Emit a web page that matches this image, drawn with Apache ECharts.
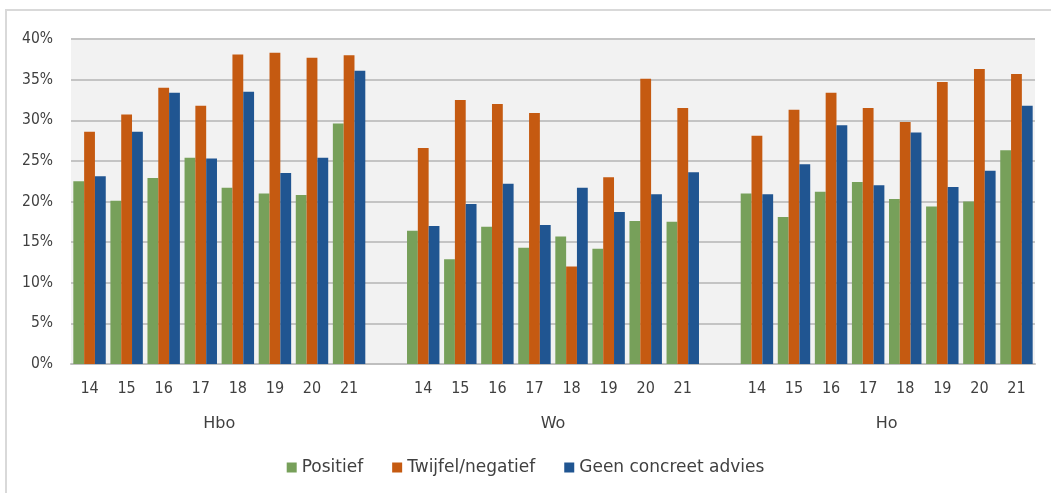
<!DOCTYPE html>
<html>
<head>
<meta charset="utf-8">
<script src="https://cdn.jsdelivr.net/npm/echarts@6/dist/echarts.min.js"></script>
<style>
html,body{margin:0;padding:0;background:#fff;overflow:hidden;}
#frame{position:absolute;left:5px;top:9px;width:1200px;height:700px;border:2px solid #D9D9D9;box-sizing:border-box;}
#chart{position:absolute;left:0;top:0;width:1051px;height:493px;}
</style>
</head>
<body>
<div id="frame"></div>
<div id="chart"></div>
<script>
// Data
const years = ['14','15','16','17','18','19','20','21'];
const groups = ['Hbo','Wo','Ho'];
const seriesNames = ['Positief','Twijfel/negatief','Geen concreet advies'];

const positiefHbo = [22.5, 20.1, 22.9, 25.4, 21.7, 21.0, 20.8, 29.6];
const positiefWo  = [16.4, 12.9, 16.9, 14.3, 15.7, 14.2, 17.6, 17.5];
const positiefHo  = [21.0, 18.1, 21.2, 22.4, 20.3, 19.4, 20.0, 26.3];

const twijfelHbo = [28.6, 30.7, 34.0, 31.8, 38.1, 38.3, 37.7, 38.0];
const twijfelWo  = [26.6, 32.5, 32.0, 30.9, 12.0, 23.0, 35.1, 31.5];
const twijfelHo  = [28.1, 31.3, 33.4, 31.5, 29.8, 34.7, 36.3, 35.7];

const geenHbo = [23.1, 28.6, 33.4, 25.3, 33.5, 23.5, 25.4, 36.1];
const geenWo  = [17.0, 19.7, 22.2, 17.1, 21.7, 18.7, 20.9, 23.6];
const geenHo  = [20.9, 24.6, 29.4, 22.0, 28.5, 21.8, 23.8, 31.8];

const yTicks = [0, 5, 10, 15, 20, 25, 30, 35, 40];

// Build categories: 3 groups of years separated by one empty slot
function joinGroups(a, b, c, gap) { return [].concat(a, [gap], b, [gap], c); }
const categories = joinGroups(years, years, years, '');
const groupCenters = {};
(function(){ let start = 0; groups.forEach(g => { groupCenters[start + years.length / 2] = g; start += years.length + 1; }); })();

const colors = ['#77A05A', '#C55A11', '#205591'];
const dataSets = [
  joinGroups(positiefHbo, positiefWo, positiefHo, null),
  joinGroups(twijfelHbo, twijfelWo, twijfelHo, null),
  joinGroups(geenHbo, geenWo, geenHo, null)
];

const FONT_C = '"DejaVu Sans Condensed", "DejaVu Sans", sans-serif';
const FONT = '"DejaVu Sans", sans-serif';
const TXT = '#404040';

const chart = echarts.init(document.getElementById('chart'), null, {renderer: 'canvas'});
chart.setOption({
  backgroundColor: 'transparent',
  animation: false,
  color: colors,
  textStyle: {fontFamily: FONT},
  grid: {left: 71, right: 16, top: 39, bottom: 129, show: true, backgroundColor: '#F2F2F2', borderWidth: 0, containLabel: false},
  legend: {
    bottom: 12, left: 'center',
    itemWidth: 10, itemHeight: 10, itemGap: 29,
    icon: 'rect',
    data: seriesNames,
    textStyle: {fontFamily: FONT, fontSize: 17, color: TXT}
  },
  xAxis: [
    {
      type: 'category', data: categories,
      axisLine: {lineStyle: {color: '#BFBFBF', width: 2}},
      axisTick: {show: false},
      axisLabel: {interval: 0, color: TXT, fontSize: 16, fontFamily: FONT_C, margin: 17}
    },
    {
      type: 'value', position: 'bottom', offset: 44,
      min: 0, max: categories.length, interval: 1,
      axisLine: {show: false}, axisTick: {show: false}, splitLine: {show: false},
      axisLabel: {color: TXT, fontSize: 16, fontFamily: FONT, hideOverlap: false,
        formatter: v => groupCenters[v] || ''}
    }
  ],
  yAxis: {
    type: 'value', min: yTicks[0], max: yTicks[yTicks.length - 1], interval: yTicks[1] - yTicks[0],
    axisLine: {show: false}, axisTick: {show: false},
    splitLine: {lineStyle: {color: '#C4C4C4', width: 2}},
    axisLabel: {color: TXT, fontSize: 15.5, fontFamily: FONT_C, margin: 18, formatter: '{value}%'}
  },
  series: seriesNames.map((n, i) => ({
    name: n, type: 'bar', xAxisIndex: 0,
    barGap: '0%', barCategoryGap: '12.5%',
    data: dataSets[i],
    itemStyle: {color: colors[i]}
  }))
});
</script>
</body>
</html>
